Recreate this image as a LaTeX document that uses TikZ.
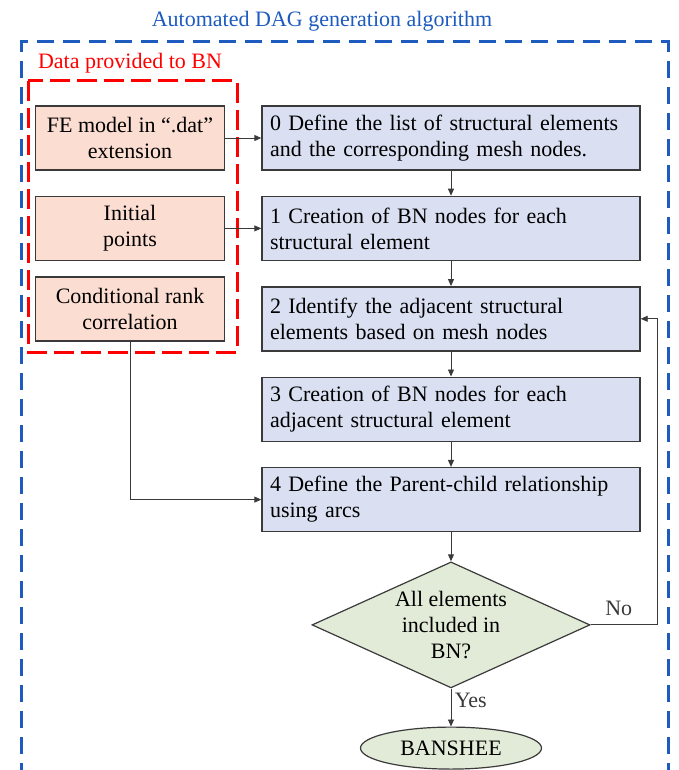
\documentclass[tikz,border=0pt]{standalone}
\usepackage{fontspec}
\setmainfont{Liberation Serif}
\usepackage{tikz}
\usetikzlibrary{arrows.meta,positioning,shapes.geometric}
\definecolor{FrameBlue}{HTML}{1D5BBF}
\definecolor{DataRed}{HTML}{FF0000}
\definecolor{DataPink}{HTML}{FBDDD1}
\definecolor{StepBlue}{HTML}{DAE0F2}
\definecolor{CheckGreen}{HTML}{E2EBD7}
\definecolor{EdgeGray}{HTML}{3A3A3A}

\begin{document}
\begin{tikzpicture}[x=1pt,y=-1pt,node distance=25pt,
    every node/.style={font=\fontsize{22}{26}\selectfont},
    databox/.style={draw=EdgeGray,line width=1.4pt,fill=DataPink,
                    minimum width=189pt,minimum height=64pt,align=center},
    stepbox/.style={draw=EdgeGray,line width=1.4pt,fill=StepBlue,
                    text width=362pt,inner xsep=8pt,minimum height=64pt,align=left},
    check/.style={diamond,draw=EdgeGray,line width=1.2pt,fill=CheckGreen,
                  aspect=2.2,inner sep=0pt,minimum width=278pt,minimum height=126pt,align=center},
    result/.style={ellipse,draw=EdgeGray,line width=1.2pt,fill=CheckGreen,
                   inner sep=0pt,minimum width=181pt,minimum height=42pt},
    frame/.style={FrameBlue,line width=3pt,dash pattern=on 17pt off 9pt},
    dataframe/.style={DataRed,line width=3pt,dash pattern=on 20pt off 7pt},
    conn/.style={-{Triangle[length=7pt,width=6pt]},line width=0.9pt,EdgeGray}]
    \useasboundingbox (0,0) rectangle (678,770);
    % outer frame and data frame
    \draw[frame] (21,780) |- (668,42) -- (668,780);
    \node[text=FrameBlue] (title) at (322,21) {Automated DAG generation algorithm};
    \draw[dataframe] (28,81) rectangle (237,352);
    \node[text=DataRed] (datalabel) at (130,63) {Data provided to BN};
    % steps
    \node[stepbox] (s0) at (451,138) {0 Define the list of structural elements\\and the corresponding mesh nodes.};
    \node[stepbox,below=of s0] (s1) {1 Creation of BN nodes for each\\structural element};
    \node[stepbox,below=of s1] (s2) {2 Identify the adjacent structural\\elements based on mesh nodes};
    \node[stepbox,below=of s2] (s3) {3 Creation of BN nodes for each\\adjacent structural element};
    \node[stepbox,below=of s3] (s4) {4 Define the Parent-child relationship\\using arcs};
    \node[check,below=29pt of s4] (done) {All elements\\included in\\BN?};
    \node[result,below=38pt of done] (banshee) {BANSHEE};
    % inputs
    \node[databox] (fe) at (130,138) {FE model in “.dat”\\extension};
    \node[databox] (init) at (fe |- s1) {Initial\\points};
    \node[databox,below=15pt of init] (rank) {Conditional rank\\correlation};
    \coordinate[right=67pt of done.east] (loop);
    \draw[conn] (fe) -- (s0);
    \draw[conn] (init) -- (s1);
    \draw[conn] (s0) -- (s1);
    \draw[conn] (s1) -- (s2);
    \draw[conn] (s2) -- (s3);
    \draw[conn] (s3) -- (s4);
    \draw[conn] (rank.south) |- (s4.west);
    \draw[conn] (s4) -- (done);
    \draw[conn] (done) -- node[right,pos=0.3]{Yes} (banshee);
    \draw[conn] (done.east) -- node[above=5pt,pos=0.42]{No} (loop) |- (s2.east);
  \end{tikzpicture}
\end{document}
